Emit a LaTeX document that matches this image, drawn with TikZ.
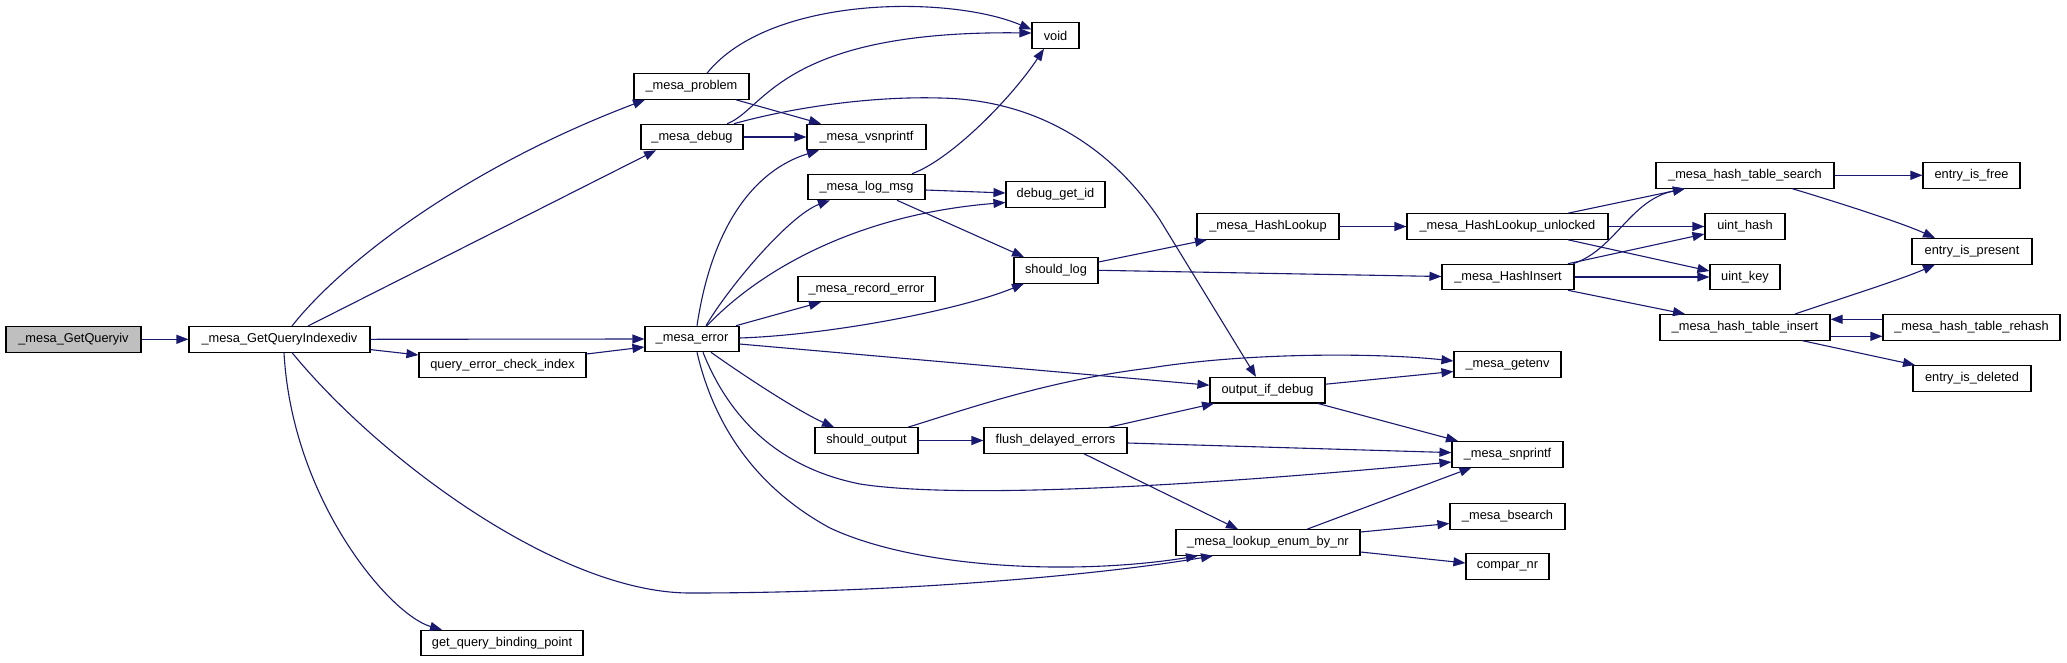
\documentclass[tikz,border=0pt]{standalone}
\usepackage{fontspec}
\newfontfamily\nf{Liberation Sans}
\usetikzlibrary{arrows.meta}
\definecolor{navy}{HTML}{191970}
\tikzset{
  box/.style={draw=black, line width=1.1pt, minimum height=25.5pt, inner sep=0pt, fill=white, font=\nf\fontsize{12.8}{14}\selectfont},
  e/.style={draw=navy, line width=1.1pt, -{Triangle[length=12pt,width=9pt]}}
}
\begin{document}
\begin{tikzpicture}[x=1pt,y=-1pt]
\fill[white] (0,0) rectangle (2067,662);
\path[use as bounding box] (0,0) rectangle (2067,662);
% nodes
\node[box,minimum width=135pt,fill=gray!50] (q0) at (73.5,339.3) {\_mesa\_GetQueryiv};
\node[box,minimum width=181pt] (idx) at (279.5,339.3) {\_mesa\_GetQueryIndexediv};
\node[box,minimum width=167pt] (qeci) at (502.5,364.8) {query\_error\_check\_index};
\node[box,minimum width=162pt] (gqbp) at (502,643) {get\_query\_binding\_point};
\node[box,minimum width=115pt] (prob) at (691.5,86.5) {\_mesa\_problem};
\node[box,minimum width=102pt] (dbg) at (692,137) {\_mesa\_debug};
\node[box,minimum width=94pt] (err) at (692,339) {\_mesa\_error};
\node[box,minimum width=47pt] (void) at (1055.5,35.5) {void};
\node[box,minimum width=119pt] (vsn) at (866.5,137) {\_mesa\_vsnprintf};
\node[box,minimum width=117pt] (logm) at (866.5,187) {\_mesa\_log\_msg};
\node[box,minimum width=99pt] (dgid) at (1055.5,194.5) {debug\_get\_id};
\node[box,minimum width=84pt] (shlog) at (1056,270.3) {should\_log};
\node[box,minimum width=137pt] (rec) at (866.5,288.8) {\_mesa\_record\_error};
\node[box,minimum width=103pt] (shout) at (866.5,440.5) {should\_output};
\node[box,minimum width=143pt] (flush) at (1055.5,440.5) {flush\_delayed\_errors};
\node[box,minimum width=115pt] (oid) at (1267.5,390.2) {output\_if\_debug};
\node[box,minimum width=184pt] (lenr) at (1268,542.5) {\_mesa\_lookup\_enum\_by\_nr};
\node[box,minimum width=142pt] (hl) at (1268,226.5) {\_mesa\_HashLookup};
\node[box,minimum width=132pt] (hi) at (1508,277) {\_mesa\_HashInsert};
\node[box,minimum width=201pt] (hlu) at (1507.5,226.5) {\_mesa\_HashLookup\_unlocked};
\node[box,minimum width=107pt] (getenv) at (1507.5,364.5) {\_mesa\_getenv};
\node[box,minimum width=111pt] (snp) at (1507.5,454.3) {\_mesa\_snprintf};
\node[box,minimum width=115pt] (bs) at (1507.5,516.5) {\_mesa\_bsearch};
\node[box,minimum width=83pt] (cmp) at (1507.5,566.5) {compar\_nr};
\node[box,minimum width=178pt] (hts) at (1745,175.3) {\_mesa\_hash\_table\_search};
\node[box,minimum width=80pt] (uh) at (1745,226.5) {uint\_hash};
\node[box,minimum width=70pt] (uk) at (1745,277) {uint\_key};
\node[box,minimum width=170pt] (hti) at (1745,327.3) {\_mesa\_hash\_table\_insert};
\node[box,minimum width=97pt] (efree) at (1971.5,175.3) {entry\_is\_free};
\node[box,minimum width=120pt] (epres) at (1972,251.3) {entry\_is\_present};
\node[box,minimum width=177pt] (ehr) at (1971.5,327.3) {\_mesa\_hash\_table\_rehash};
\node[box,minimum width=118pt] (edel) at (1972,378.3) {entry\_is\_deleted};
% edges
\draw[e] (q0) -- (idx);
\draw[e] ([xshift=12.5pt]idx.north) .. controls (340,265) and (460,170) .. ([xshift=-46.5pt]prob.south);
\draw[e] ([xshift=28.5pt]idx.north) -- ([xshift=-36pt]dbg.south);
\draw[e] (idx.east) -- (err.west);
\draw[e] ([yshift=-10.3pt]idx.east) -- ([yshift=9.8pt]qeci.west);
\draw[e] ([yshift=10.8pt]qeci.east) -- ([yshift=-8pt]err.west);
\draw[e] ([xshift=4.5pt]idx.south) .. controls (292,500) and (390,615) .. ([xshift=-60pt]gqbp.north);
\draw[e] ([xshift=12.5pt]idx.south) .. controls (380,460) and (560,593) .. (690,593) .. controls (900,593) and (1100,575) .. ([xshift=-55pt]lenr.south);
\draw[e] ([xshift=15.5pt]prob.north) .. controls (770,-5) and (950,-5) .. ([yshift=6pt]void.west);
\draw[e] ([xshift=44.5pt]prob.south) -- ([xshift=-45.5pt]vsn.north);
\draw[e] ([xshift=35pt]dbg.north) .. controls (765,110) and (780,30) .. ([yshift=2.5pt]void.west);
\draw[e] (dbg) -- (vsn);
\draw[e] ([xshift=42pt]dbg.north) .. controls (790,108) and (870,96) .. (940,98) .. controls (1050,100) and (1120,160) .. (1160,220) -- ([xshift=-11.5pt]oid.north);
\draw[e] ([xshift=45.5pt]logm.north) .. controls (950,160) and (1010,100) .. ([xshift=-11.5pt]void.south);
\draw[e] ([yshift=-3pt]logm.east) -- ([yshift=1.5pt]dgid.west);
\draw[e] ([xshift=30.5pt]logm.south) -- ([xshift=-32pt]shlog.north);
\draw[e] ([xshift=5pt]err.north) .. controls (712,225) and (755,170) .. ([xshift=-47.5pt]vsn.south);
\draw[e] ([xshift=14pt]err.north) .. controls (730,285) and (790,215) .. ([xshift=-36.5pt]logm.south);
\draw[e] ([xshift=15pt]err.north) .. controls (755,275) and (850,215) .. ([yshift=-8pt]dgid.west);
\draw[e] ([xshift=44pt]err.north) -- ([xshift=-45.5pt]rec.south);
\draw[e] ([yshift=1pt]err.east) .. controls (830,335) and (960,310) .. ([xshift=-32pt]shlog.south);
\draw[e] ([yshift=-5pt]err.east) -- ([yshift=5pt]oid.west);
\draw[e] ([xshift=19pt]err.south) .. controls (750,380) and (800,412) .. ([xshift=-32.5pt]shout.north);
\draw[e] ([xshift=11pt]err.south) .. controls (730,420) and (780,468) .. (860,484) .. controls (930,495) and (1100,495) .. ([yshift=-7.7pt]snp.west);
\draw[e] ([xshift=5pt]err.south) .. controls (715,430) and (760,490) .. (830,528) .. controls (920,570) and (1080,575) .. ([xshift=-70pt]lenr.south);
\draw[e] ([xshift=41.5pt]shout.north) .. controls (970,408) and (1050,380) .. (1150,368) .. controls (1250,352) and (1380,353) .. ([yshift=3.5pt]getenv.west);
\draw[e] (shout) -- (flush);
\draw[e] ([xshift=53.5pt]flush.north) -- ([xshift=-53.5pt]oid.south);
\draw[e] ([yshift=-2.5pt]flush.east) -- ([yshift=1.7pt]snp.west);
\draw[e] ([xshift=28.5pt]flush.south) -- ([xshift=-30pt]lenr.north);
\draw[e] ([yshift=6pt]oid.east) -- ([yshift=-7pt]getenv.west);
\draw[e] ([xshift=50.5pt]oid.south) -- ([xshift=-49.5pt]snp.north);
\draw[e] ([xshift=39pt]lenr.north) -- ([xshift=-36pt]snp.south);
\draw[e] ([yshift=10.5pt]lenr.east) -- ([yshift=-7pt]bs.west);
\draw[e] ([yshift=-9.5pt]lenr.east) -- ([yshift=3.5pt]cmp.west);
\draw[e] ([yshift=8.3pt]shlog.east) -- ([xshift=-61pt]hl.south);
\draw[e] (shlog.east) -- ([yshift=0.5pt]hi.west);
\draw[e] (hl) -- (hlu);
\draw[e] ([xshift=60.5pt]hlu.north) -- ([xshift=-60pt]hts.south);
\draw[e] (hlu) -- (uh);
\draw[e] ([xshift=60.5pt]hlu.south) -- ([yshift=6pt]uk.west);
\draw[e] ([xshift=65pt]hi.north) .. controls (1615,250) and (1630,200) .. ([xshift=-60pt]hts.south);
\draw[e] ([xshift=60pt]hi.north) -- ([yshift=-7.5pt]uh.west);
\draw[e] (hi) -- (uk);
\draw[e] ([xshift=60pt]hi.south) -- ([xshift=-60pt]hti.north);
\draw[e] (hts) -- (efree);
\draw[e] ([xshift=47pt]hts.south) .. controls (1830,200) and (1900,222) .. ([xshift=-37pt]epres.north);
\draw[e] ([xshift=50pt]hti.north) .. controls (1830,302) and (1900,280) .. ([xshift=-37pt]epres.south);
\draw[e] ([yshift=-9pt]hti.east) -- ([yshift=-9pt]ehr.west);
\draw[e] ([yshift=8pt]ehr.west) -- ([yshift=8pt]hti.east);
\draw[e] ([xshift=57pt]hti.south) -- ([xshift=-57pt]edel.north);
\end{tikzpicture}
\end{document}
